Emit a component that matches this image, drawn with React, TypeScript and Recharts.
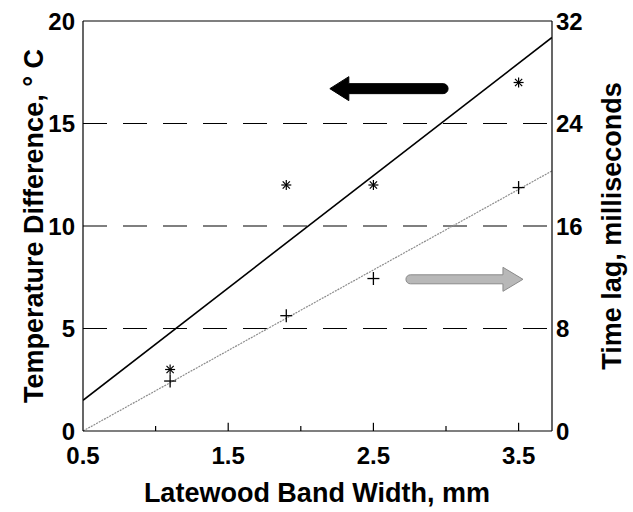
import { ComposedChart, XAxis, YAxis, Line, Scatter, ReferenceLine } from "recharts";

// measured samples
const widths = [1.1, 1.9, 2.5, 3.5];
const tempDiff = [3.0, 12.0, 12.0, 17.0];
const timeLag = [3.9, 9.0, 11.9, 19.0];

// regression lines (end points)
const fitWidths = [0.5, 3.73];
const tempFit = [1.5, 19.2];
const lagFit = [0, 20.3];

const xTicks = [0.5, 1.5, 2.5, 3.5];
const majorMarks = [1.5, 2.5, 3.5];
const minorMarks = [1.0, 2.0, 3.0];
const tempTicks = [0, 5, 10, 15, 20];
const lagTicks = [0, 8, 16, 24, 32];
const gridTemps = [5, 10, 15];

const tempPoints = widths.map((x, i) => ({ x, y: tempDiff[i] }));
const lagPoints = widths.map((x, i) => ({ x, y: timeLag[i] }));
const tempLine = fitWidths.map((x, i) => ({ x, y: tempFit[i] }));
const lagLine = fitWidths.map((x, i) => ({ x, y: lagFit[i] }));

const W = 633;
const H = 512;
const PLOT_TOP = 21;
const PLOT_BOTTOM = 431;
const MID_Y = (PLOT_TOP + PLOT_BOTTOM) / 2;

const tickStyle = { fontSize: 24, fontWeight: 700, fill: "#000" };

function Asterisk(props: any) {
  const { cx, cy } = props;
  const r = 5;
  const d = r * 0.72;
  return (
    <g stroke="#000" strokeWidth={1.2}>
      <line x1={cx - r} y1={cy} x2={cx + r} y2={cy} />
      <line x1={cx} y1={cy - r} x2={cx} y2={cy + r} />
      <line x1={cx - d} y1={cy - d} x2={cx + d} y2={cy + d} />
      <line x1={cx - d} y1={cy + d} x2={cx + d} y2={cy - d} />
    </g>
  );
}

function Plus(props: any) {
  const { cx, cy } = props;
  return (
    <g stroke="#000" strokeWidth={1.3}>
      <line x1={cx - 6} y1={cy} x2={cx + 6} y2={cy} />
      <line x1={cx} y1={cy - 6.5} x2={cx} y2={cy + 6.5} />
    </g>
  );
}

// arrow drawn along a reference segment: first point = tail, second = tip
function arrow(fill: string, stroke: string, half: number, headHalf: number, headLen: number) {
  return (props: any) => {
    const { x1, y1, x2 } = props;
    const dir = x2 > x1 ? 1 : -1;
    const base = x2 - dir * headLen;
    const d = [
      `M${x1},${y1 - half}`,
      `L${base},${y1 - half}`,
      `L${base},${y1 - headHalf}`,
      `L${x2},${y1}`,
      `L${base},${y1 + headHalf}`,
      `L${base},${y1 + half}`,
      `L${x1},${y1 + half}`,
      `A${half},${half} 0 0 ${dir > 0 ? 1 : 0} ${x1},${y1 - half}`,
      "Z",
    ].join(" ");
    return <path d={d} fill={fill} stroke={stroke} strokeWidth={1} />;
  };
}

const blackArrow = arrow("#000", "#000", 5, 12, 19);
const greyArrow = arrow("#b8b8b8", "#8a8a8a", 4.5, 12, 20);

export default function App() {
  return (
    <div
      style={{
        position: "absolute",
        left: 0,
        top: 0,
        width: W,
        height: H,
        background: "#fff",
        fontFamily: "'Liberation Sans', Arial, sans-serif",
      }}
    >
      <ComposedChart width={W} height={H} margin={{ top: PLOT_TOP, right: 0, bottom: 0, left: 0 }}>
        <XAxis
          type="number"
          dataKey="x"
          domain={[0.5, 3.73]}
          allowDataOverflow
          ticks={xTicks}
          tickFormatter={(v: number) => v.toFixed(1)}
          tick={tickStyle}
          tickLine={false}
          tickSize={8}
          tickMargin={8}
          height={81}
          axisLine={{ stroke: "#000", strokeWidth: 1.2 }}
          label={{
            content: () => (
              <text x={317} y={502} textAnchor="middle" fontSize={27} fontWeight={700} fill="#000">
                Latewood Band Width, mm
              </text>
            ),
          }}
        />
        <YAxis
          yAxisId="left"
          type="number"
          domain={[0, 20]}
          ticks={tempTicks}
          tick={tickStyle}
          tickLine={false}
          tickSize={6}
          tickMargin={2}
          width={83}
          axisLine={{ stroke: "#000", strokeWidth: 1.2 }}
          label={{
            content: () => (
              <text
                x={0}
                y={0}
                transform={`translate(43, ${MID_Y}) rotate(-90)`}
                textAnchor="middle"
                fontSize={27}
                fontWeight={700}
                fill="#000"
              >
                Temperature Difference, ° C
              </text>
            ),
          }}
        />
        <YAxis
          yAxisId="right"
          orientation="right"
          type="number"
          domain={[0, 32]}
          ticks={lagTicks}
          tick={tickStyle}
          tickLine={false}
          tickSize={2}
          tickMargin={2}
          width={81}
          axisLine={{ stroke: "#000", strokeWidth: 1.2 }}
          label={{
            content: () => (
              <text
                x={0}
                y={0}
                transform={`translate(621, ${MID_Y}) rotate(-90)`}
                textAnchor="middle"
                fontSize={27}
                fontWeight={700}
                fill="#000"
              >
                Time lag, milliseconds
              </text>
            ),
          }}
        />

        {gridTemps.map((t) => (
          <ReferenceLine key={t} yAxisId="left" y={t} stroke="#000" strokeWidth={1.2} strokeDasharray="24 16" />
        ))}
        <ReferenceLine yAxisId="left" y={20} stroke="#000" strokeWidth={1.2} />

        {majorMarks.map((m) => (
          <ReferenceLine
            key={"M" + m}
            yAxisId="left"
            segment={[{ x: m, y: 0 }, { x: m, y: 0.4 }]}
            stroke="#000"
            strokeWidth={1.2}
          />
        ))}
        {minorMarks.map((m) => (
          <ReferenceLine
            key={"m" + m}
            yAxisId="left"
            segment={[{ x: m, y: 0 }, { x: m, y: 0.25 }]}
            stroke="#000"
            strokeWidth={1.2}
          />
        ))}

        <Line
          yAxisId="left"
          data={tempLine}
          dataKey="y"
          type="linear"
          stroke="#000"
          strokeWidth={1.6}
          dot={false}
          activeDot={false}
          isAnimationActive={false}
        />
        <Line
          yAxisId="right"
          data={lagLine}
          dataKey="y"
          type="linear"
          stroke="#8c8c8c"
          strokeWidth={1.2}
          strokeDasharray="2 1"
          dot={false}
          activeDot={false}
          isAnimationActive={false}
        />
        <Scatter yAxisId="left" data={tempPoints} dataKey="y" shape={Asterisk} isAnimationActive={false} />
        <Scatter yAxisId="right" data={lagPoints} dataKey="y" shape={Plus} isAnimationActive={false} />

        <ReferenceLine
          yAxisId="left"
          segment={[{ x: 2.98, y: 16.7 }, { x: 2.2, y: 16.7 }]}
          shape={blackArrow}
        />
        <ReferenceLine
          yAxisId="left"
          segment={[{ x: 2.755, y: 7.4 }, { x: 3.53, y: 7.4 }]}
          shape={greyArrow}
        />
      </ComposedChart>
    </div>
  );
}
